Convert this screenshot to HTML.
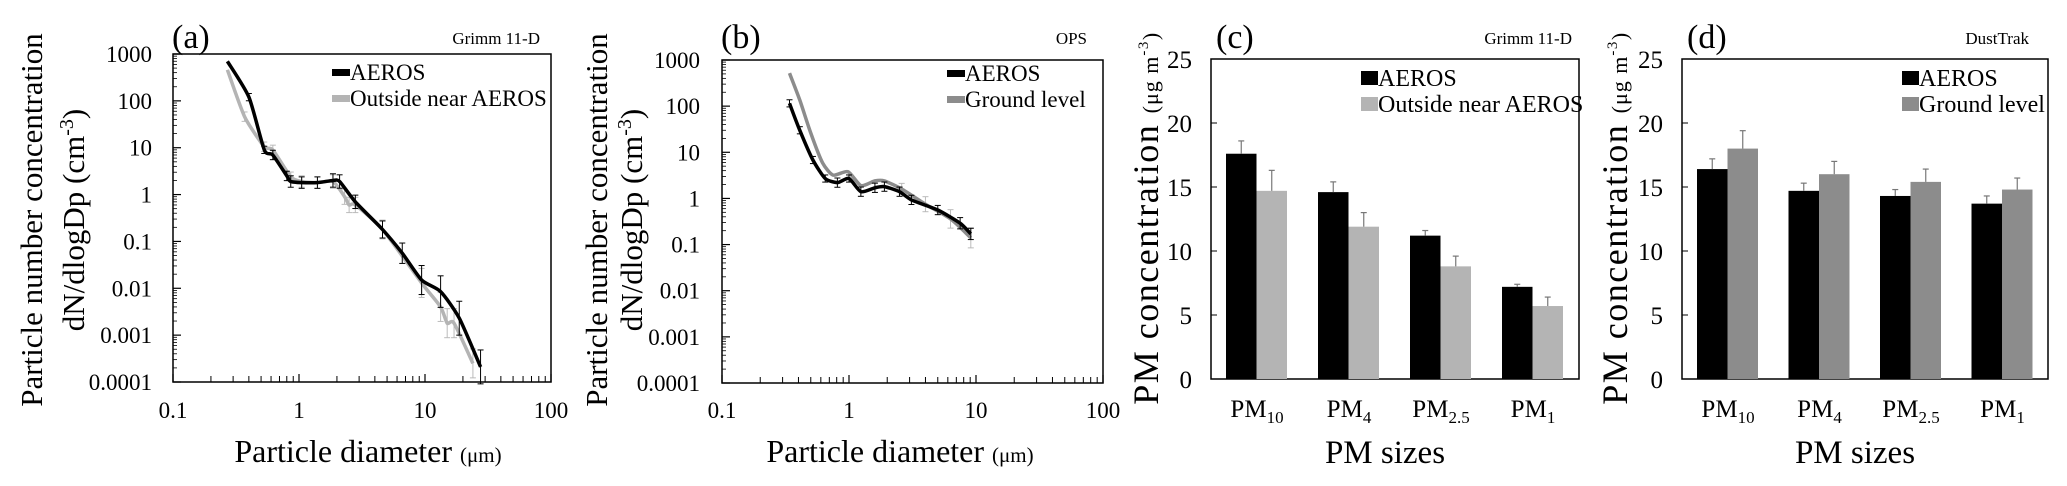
<!DOCTYPE html>
<html><head><meta charset="utf-8">
<style>
html,body{margin:0;padding:0;background:#fff;}
svg{display:block;font-family:"Liberation Serif","DejaVu Serif",serif;}
svg text{font-family:"Liberation Serif","DejaVu Serif",serif;}
</style></head>
<body>
<svg id="fig" width="2067" height="486" viewBox="0 0 2067 486" xmlns="http://www.w3.org/2000/svg"></svg>
<script>
// ---------- Panel (a) data: Grimm 11-D ----------
const aAerosD = [0.27,0.40,0.53,0.62,0.80,0.86,1.05,1.4,1.86,2.1,2.8,4.6,6.6,9.4,13.3,18.7,27.6];
const aAerosV = [700,120,9,7,2.5,1.9,1.8,1.8,2.0,1.9,0.7,0.18,0.056,0.015,0.0085,0.0023,0.00021];
const aAerosErr = [0,0.15,0.15,0.2,0.2,0.25,0.25,0.25,0.3,0.3,0.3,0.4,0.5,0.8,0.9,1.0,1.0];
const aOutD = [0.27,0.37,0.53,0.62,0.86,1.05,1.4,1.86,2.3,2.5,2.8,4.6,9.4,13.3,15,17,24];
const aOutV = [460,46,10.5,9,2.4,1.9,1.8,1.9,0.9,0.6,0.6,0.18,0.013,0.004,0.0018,0.0018,0.00025];
const aOutErr = [0,0.2,0.2,0.2,0.2,0.25,0.25,0.3,0.35,0.35,0.35,0.45,0.8,0.8,0.8,0.8,0.8];
// ---------- Panel (b) data: OPS ----------
const bAerosD = [0.34,0.41,0.52,0.65,0.81,1.0,1.24,1.6,1.9,2.5,3.1,5.0,7.5,9.1];
const bAerosV = [115,30,6.8,2.7,2.2,2.7,1.4,1.7,1.8,1.4,0.93,0.56,0.29,0.17];
const bAerosErr = [0.15,0.15,0.15,0.15,0.2,0.15,0.2,0.2,0.2,0.2,0.2,0.2,0.25,0.25];
const bGroundD = [0.34,0.41,0.50,0.62,0.75,0.98,1.24,1.6,1.9,2.6,4.0,6.3,9.1];
const bGroundV = [520,135,26,5.9,3.2,3.8,1.9,2.4,2.4,1.6,0.75,0.36,0.14];
const bGroundErr = [0,0,0,0,0,0,0,0,0,0.25,0.35,0.45,0.5];
// ---------- Panel (c) data ----------
const pmCats = ["10","4","2.5","1"];
const cAeros = [17.6,14.6,11.2,7.2];
const cAerosErr = [1.0,0.8,0.4,0.2];
const cOutside = [14.7,11.9,8.8,5.7];
const cOutsideErr = [1.6,1.1,0.8,0.7];
// ---------- Panel (d) data ----------
const dAeros = [16.4,14.7,14.3,13.7];
const dAerosErr = [0.8,0.6,0.5,0.6];
const dGround = [18.0,16.0,15.4,14.8];
const dGroundErr = [1.4,1.0,1.0,0.9];
const logTicks = ["1000","100","10","1","0.1","0.01","0.001","0.0001"];
const xLogTicks = ["0.1","1","10","100"];
const barTicks = ["0","5","10","15","20","25"];

const NS="http://www.w3.org/2000/svg";
const FONT='"Liberation Serif","DejaVu Serif",serif';
const svg=document.getElementById('fig');
function mk(tag,attrs,parent,name){const e=document.createElementNS(NS,tag);for(const k in attrs)e.setAttribute(k,attrs[k]);


(parent||svg).appendChild(e);return e;}
function txt(x,y,s,size,anchor,parent,name,extra){const t=mk('text',Object.assign({x:x,y:y,'font-size':size,'text-anchor':anchor||'start',fill:'#000','font-family':FONT},extra||{}),parent,name);t.textContent=s;return t;}

function smoothPath(pts){
  let d='M'+pts[0][0].toFixed(1)+','+pts[0][1].toFixed(1);
  for(let i=0;i<pts.length-1;i++){
    const p0=pts[i-1]||pts[i],p1=pts[i],p2=pts[i+1],p3=pts[i+2]||p2;
    const c1=[p1[0]+(p2[0]-p0[0])/9,p1[1]+(p2[1]-p0[1])/9];
    const c2=[p2[0]-(p3[0]-p1[0])/9,p2[1]-(p3[1]-p1[1])/9];
    d+=' C'+c1[0].toFixed(1)+','+c1[1].toFixed(1)+' '+c2[0].toFixed(1)+','+c2[1].toFixed(1)+' '+p2[0].toFixed(1)+','+p2[1].toFixed(1);
  }
  return d;
}

function logPanel(cfg){
  const g=mk('g',{},svg,cfg.name);
  const L=cfg.L,R=cfg.R,T=cfg.T,B=cfg.B;
  const xs=d=>L+(Math.log10(d)+1)/3*(R-L);
  const ys=v=>T+(3-Math.log10(v))/7*(B-T);
  mk('rect',{x:L,y:T,width:R-L,height:B-T,fill:'none',stroke:'#000','stroke-width':1.5},g,'plot-frame');
  for(let dec=-1;dec<2;dec++){for(let m=2;m<=9;m++){const x=xs(m*Math.pow(10,dec));mk('line',{x1:x,y1:B,x2:x,y2:B-6,stroke:'#000','stroke-width':1},g,'x-minor-tick');}}
  xLogTicks.forEach((s,i)=>{const x=xs(Math.pow(10,i-1));mk('line',{x1:x,y1:B,x2:x,y2:B-8,stroke:'#000','stroke-width':1.2},g,'x-major-tick');txt(x,418,s,23,'middle',g,'x-tick-label');});
  logTicks.forEach((s,i)=>{const v=Math.pow(10,3-i);const y=ys(v);mk('line',{x1:L,y1:y,x2:L+8,y2:y,stroke:'#000','stroke-width':1.2},g,'y-major-tick');
    if(i<7){for(let m=2;m<=9;m++){const yy=ys(v/10*m);mk('line',{x1:L,y1:yy,x2:L+4,y2:yy,stroke:'#000','stroke-width':0.8},g,'y-minor-tick');}}
    txt(cfg.tickR,y+8,s,23,'end',g,'y-tick-label');});
  cfg.series.forEach(s=>{
    const pts=s.d.map((d,i)=>[xs(d),ys(s.v[i])]);
    s.d.forEach((d,i)=>{if(s.e[i]>0){const x=xs(d),y1=ys(s.v[i]*(1+s.e[i]*1.3)),y2=ys(s.v[i]/(1+s.e[i]*1.3));
      mk('line',{x1:x,y1:y1,x2:x,y2:y2,stroke:s.ec,'stroke-width':1},g,'error-bar');
      mk('line',{x1:x-3,y1:y1,x2:x+3,y2:y1,stroke:s.ec,'stroke-width':1},g,'error-cap');
      mk('line',{x1:x-3,y1:y2,x2:x+3,y2:y2,stroke:s.ec,'stroke-width':1},g,'error-cap');}});
    mk('path',{d:smoothPath(pts),fill:'none',stroke:s.c,'stroke-width':3.5,'stroke-linejoin':'round'},g,s.name);
  });
  cfg.legend.forEach((l,i)=>{const y=cfg.legY+i*26;mk('rect',{x:cfg.legX,y:y-5,width:18,height:7,fill:l.c},g,'legend-swatch');txt(cfg.legX+18,y+6,l.t,23,'start',g,'legend-label');});
  txt(L-1,48,cfg.letter,34,'start',g,'panel-label');
  txt(cfg.instX,44,cfg.inst,17,'end',g,'instrument-label');
  const xt=txt(cfg.xtitleX,462,'Particle diameter ',32,'middle',g,'x-axis-title');
  const ts=document.createElementNS(NS,'tspan');ts.setAttribute('font-size','21');ts.textContent='(\u03bcm)';xt.appendChild(ts);
  txt(0,0,'Particle number concentration',31,'middle',g,'y-axis-title',{transform:'translate('+(cfg.yt1+11)+','+cfg.ymid+') rotate(-90)'});
  const y2=txt(0,0,'dN/dlogDp (cm',31,'middle',g,'y-axis-title-units',{transform:'translate('+(cfg.yt2+11)+','+cfg.ymid+') rotate(-90)'});
  const sup=document.createElementNS(NS,'tspan');sup.setAttribute('font-size','20');sup.setAttribute('dy','-11');sup.textContent='-3';y2.appendChild(sup);
  const cl=document.createElementNS(NS,'tspan');cl.setAttribute('dy','11');cl.textContent=')';y2.appendChild(cl);
}

logPanel({name:'panel-a',L:173,R:551,T:54,B:382,tickR:152,letter:'(a)',inst:'Grimm 11-D',instX:540,xtitleX:368,yt1:31,yt2:73,ymid:220,
  legX:332,legY:74,legend:[{c:'#000',t:'AEROS'},{c:'#b4b4b4',t:'Outside near AEROS'}],
  series:[{name:'outside-line',d:aOutD,v:aOutV,e:aOutErr,c:'#b4b4b4',ec:'#bbb'},{name:'aeros-line',d:aAerosD,v:aAerosV,e:aAerosErr,c:'#000',ec:'#000'}]});
logPanel({name:'panel-b',L:722,R:1103,T:60,B:383,tickR:700,letter:'(b)',inst:'OPS',instX:1087,xtitleX:900,yt1:596,yt2:631,ymid:220,
  legX:947,legY:75,legend:[{c:'#000',t:'AEROS'},{c:'#8c8c8c',t:'Ground level'}],
  series:[{name:'ground-line',d:bGroundD,v:bGroundV,e:bGroundErr,c:'#8c8c8c',ec:'#bbb'},{name:'aeros-line',d:bAerosD,v:bAerosV,e:bAerosErr,c:'#000',ec:'#000'}]});

function barPanel(cfg){
  const g=mk('g',{},svg,cfg.name);
  const L=cfg.L,R=cfg.R,T=59,B=379;
  const ys=v=>B-v/25*(B-T);
  const gw=(R-L)/pmCats.length;
  mk('rect',{x:L,y:T,width:R-L,height:B-T,fill:'none',stroke:'#000','stroke-width':1.5},g,'plot-frame');
  barTicks.forEach(s=>{const y=ys(+s);mk('line',{x1:L,y1:y,x2:L+6,y2:y,stroke:'#000','stroke-width':1},g,'y-tick');txt(cfg.tickR,y+9,s,25,'end',g,'y-tick-label');});
  const series=[{v:cfg.a,e:cfg.ae,c:'#000',off:15,n:'aeros-bar'},{v:cfg.b,e:cfg.be,c:cfg.bc,off:45.5,n:cfg.bn}];
  pmCats.forEach((cat,i)=>{
    series.forEach(s=>{const x=L+i*gw+s.off,w=30.5,y=ys(s.v[i]);
      mk('rect',{x:x,y:y,width:w,height:B-y,fill:s.c},g,s.n);
      const ye=ys(s.v[i]+s.e[i]);mk('line',{x1:x+w/2,y1:y,x2:x+w/2,y2:ye,stroke:'#777','stroke-width':1.2},g,'error-bar');
      mk('line',{x1:x+w/2-3,y1:ye,x2:x+w/2+3,y2:ye,stroke:'#777','stroke-width':1.2},g,'error-cap');});
    const t=txt(L+i*gw+46,417,'PM',25,'middle',g,'x-category-label');
    const sb=document.createElementNS(NS,'tspan');sb.setAttribute('font-size','17');sb.setAttribute('dy','6');sb.textContent=cat;t.appendChild(sb);
  });
  cfg.legend.forEach((l,i)=>{const y=cfg.legY+i*26;mk('rect',{x:cfg.legX,y:y-7,width:17,height:14,fill:l.c},g,'legend-swatch');txt(cfg.legX+17,y+8,l.t,24,'start',g,'legend-label');});
  txt(L+5,48,cfg.letter,34,'start',g,'panel-label');
  txt(cfg.instX,44,cfg.inst,17,'end',g,'instrument-label');
  txt((L+R)/2-10,463,'PM sizes',33,'middle',g,'x-axis-title');
  const yt=txt(0,0,'PM concentration ',36,'middle',g,'y-axis-title',{transform:'translate('+(cfg.ytX+12)+',218) rotate(-90)','letter-spacing':'1.5'});
  const u=document.createElementNS(NS,'tspan');u.setAttribute('font-size','22');u.setAttribute('letter-spacing','1');u.textContent='(\u03bcg m';yt.appendChild(u);
  const s3=document.createElementNS(NS,'tspan');s3.setAttribute('font-size','15');s3.setAttribute('dy','-10');s3.textContent='-3';yt.appendChild(s3);
  const c3=document.createElementNS(NS,'tspan');c3.setAttribute('font-size','22');c3.setAttribute('dy','10');c3.textContent=')';yt.appendChild(c3);
}
barPanel({name:'panel-c',L:1211,R:1579,tickR:1192,a:cAeros,ae:cAerosErr,b:cOutside,be:cOutsideErr,bc:'#b4b4b4',bn:'outside-bar',
  legX:1361,legY:78,legend:[{c:'#000',t:'AEROS'},{c:'#b4b4b4',t:'Outside near AEROS'}],letter:'(c)',inst:'Grimm 11-D',instX:1572,ytX:1146});
barPanel({name:'panel-d',L:1682,R:2048,tickR:1663,a:dAeros,ae:dAerosErr,b:dGround,be:dGroundErr,bc:'#8c8c8c',bn:'ground-bar',
  legX:1902,legY:78,legend:[{c:'#000',t:'AEROS'},{c:'#8c8c8c',t:'Ground level'}],letter:'(d)',inst:'DustTrak',instX:2029,ytX:1615});
</script>
</body></html>
